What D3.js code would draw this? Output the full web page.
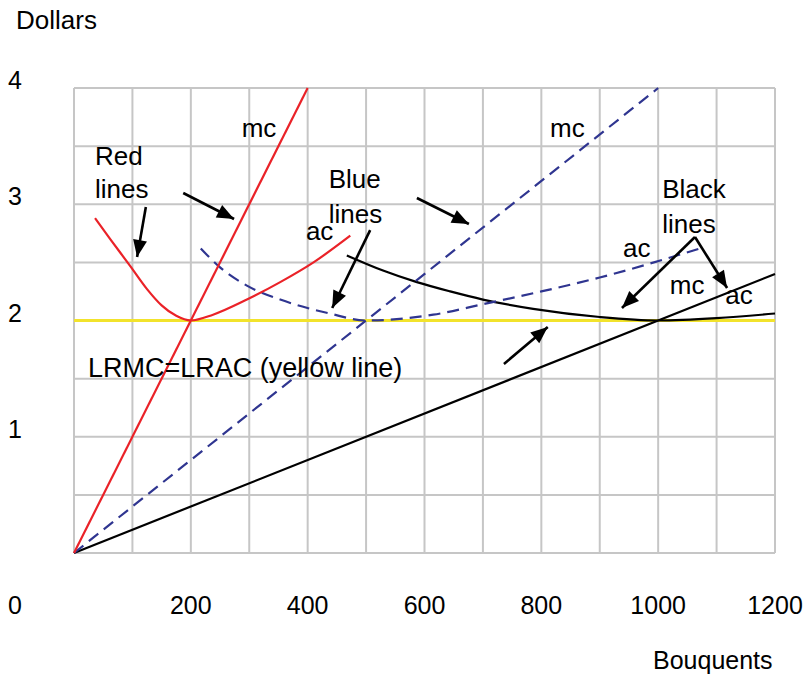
<!DOCTYPE html>
<html>
<head>
<meta charset="utf-8">
<script src="https://cdn.jsdelivr.net/npm/d3@7"></script>
<style>
  html, body { margin: 0; padding: 0; background: #fff; }
  svg text { font-family: "Liberation Sans", Arial, sans-serif; fill: #000; }
</style>
</head>
<body>
<svg id="chart" width="806" height="677"></svg>
<script>
// ---- data ----
const xTicks = [0, 200, 400, 600, 800, 1000, 1200];
const yTicks = [1, 2, 3, 4];
const xGrid = d3.range(0, 1201, 100);
const yGrid = d3.range(0, 4.01, 0.5);

const redMC = [[0, 0], [400, 4]];
const redAC = [[36, 2.88], [62, 2.70], [96, 2.47], [125, 2.27], [150, 2.13], [175, 2.04], [200, 2.0],
               [238, 2.05], [296, 2.18], [353, 2.33], [410, 2.5], [473, 2.73]];
const blueMC = [[0, 0], [1000, 4]];
const blueAC = [[217, 2.62], [247, 2.47], [296, 2.30], [353, 2.18], [438, 2.06], [500, 2.0],
                [615, 2.05], [700, 2.14], [800, 2.25], [900, 2.37], [1072, 2.62]];
const blackMC = [[0, 0], [1200, 2.4]];
const blackAC = [[467, 2.56], [529, 2.43], [587, 2.33], [644, 2.25], [700, 2.18], [786, 2.10],
                 [900, 2.03], [1000, 2.0], [1100, 2.02], [1200, 2.06]];
const yellowLine = [[0, 2], [1200, 2]];

// arrows: [tailX, tailY, tipX, tipY] in data units
const arrows = [
  [123, 2.976, 108, 2.546],
  [187, 3.097, 274, 2.873],
  [587, 3.054, 676, 2.830],
  [507, 2.778, 442, 2.108],
  [1063, 2.718, 938, 2.108],
  [1063, 2.718, 1118, 2.280],
  [736, 1.626, 811, 1.944]
];

// labels: [text, x, y] in data units (baseline-left)
const labels = [
  ["Red", 36, 3.338],
  ["lines", 36, 3.054],
  ["mc", 287, 3.578],
  ["ac", 397, 2.692],
  ["Blue", 436, 3.140],
  ["lines", 436, 2.839],
  ["mc", 815, 3.578],
  ["Black", 1007, 3.054],
  ["lines", 1007, 2.752],
  ["ac", 940, 2.546],
  ["mc", 1020, 2.228],
  ["ac", 1115, 2.142],
  ["LRMC=LRAC (yellow line)", 24, 1.514]
];

// ---- chart ----
const svg = d3.select("#chart");
const x = d3.scaleLinear().domain([0, 1200]).range([74, 775]);
const y = d3.scaleLinear().domain([0, 4]).range([553, 88]);

// grid
const grid = svg.append("g").attr("stroke", "#c6c6c6").attr("stroke-width", 2);
grid.selectAll("line.v").data(xGrid).join("line").attr("class", "v")
  .attr("x1", d => x(d)).attr("x2", d => x(d)).attr("y1", y(0)).attr("y2", y(4));
grid.selectAll("line.h").data(yGrid).join("line").attr("class", "h")
  .attr("x1", x(0)).attr("x2", x(1200)).attr("y1", d => y(d)).attr("y2", d => y(d));

const straight = d3.line().x(d => x(d[0])).y(d => y(d[1]));
const smooth = d3.line().x(d => x(d[0])).y(d => y(d[1])).curve(d3.curveMonotoneX);

// yellow line
svg.append("path").datum(yellowLine).attr("d", straight)
  .attr("fill", "none").attr("stroke", "#f2e32c").attr("stroke-width", 3);

// black
svg.append("path").datum(blackMC).attr("d", straight)
  .attr("fill", "none").attr("stroke", "#000").attr("stroke-width", 2.2);
svg.append("path").datum(blackAC).attr("d", smooth)
  .attr("fill", "none").attr("stroke", "#000").attr("stroke-width", 2.2);

// blue dashed
svg.append("path").datum(blueMC).attr("d", straight)
  .attr("fill", "none").attr("stroke", "#2f3590").attr("stroke-width", 2.2)
  .attr("stroke-dasharray", "12,7");
svg.append("path").datum(blueAC).attr("d", smooth)
  .attr("fill", "none").attr("stroke", "#2f3590").attr("stroke-width", 2.2)
  .attr("stroke-dasharray", "12,7");

// red
svg.append("path").datum(redMC).attr("d", straight)
  .attr("fill", "none").attr("stroke", "#ea2228").attr("stroke-width", 2.2);
svg.append("path").datum(redAC).attr("d", smooth)
  .attr("fill", "none").attr("stroke", "#ea2228").attr("stroke-width", 2.2);

// arrows
svg.append("defs").append("marker")
  .attr("id", "ah").attr("markerUnits", "userSpaceOnUse")
  .attr("viewBox", "-18 -8 20 16").attr("refX", 0).attr("refY", 0)
  .attr("markerWidth", 20).attr("markerHeight", 16).attr("orient", "auto")
  .append("path").attr("d", "M0,0 L-17,-7 L-17,7 Z").attr("fill", "#000");

svg.append("g").selectAll("line").data(arrows).join("line")
  .attr("x1", d => x(d[0])).attr("y1", d => y(d[1]))
  .attr("x2", d => x(d[2])).attr("y2", d => y(d[3]))
  .attr("stroke", "#000").attr("stroke-width", 2.6)
  .attr("marker-end", "url(#ah)");

// labels
svg.append("g").selectAll("text").data(labels).join("text")
  .attr("x", d => x(d[1])).attr("y", d => y(d[2]))
  .attr("font-size", d => d[0].length > 10 ? 27 : 26)
  .text(d => d[0]);

// axis tick labels
svg.append("g").selectAll("text").data(xTicks).join("text")
  .attr("x", d => d === 0 ? 15 : x(d)).attr("y", 614)
  .attr("text-anchor", "middle").attr("font-size", 25)
  .text(d => d);
svg.append("g").selectAll("text").data(yTicks).join("text")
  .attr("x", 8).attr("y", d => y(d) + 1)
  .attr("font-size", 25)
  .text(d => d);

// axis titles
svg.append("text").attr("x", 16).attr("y", 29).attr("font-size", 26).text("Dollars");
svg.append("text").attr("x", 653).attr("y", 669).attr("font-size", 25).text("Bouquents");
</script>
</body>
</html>
